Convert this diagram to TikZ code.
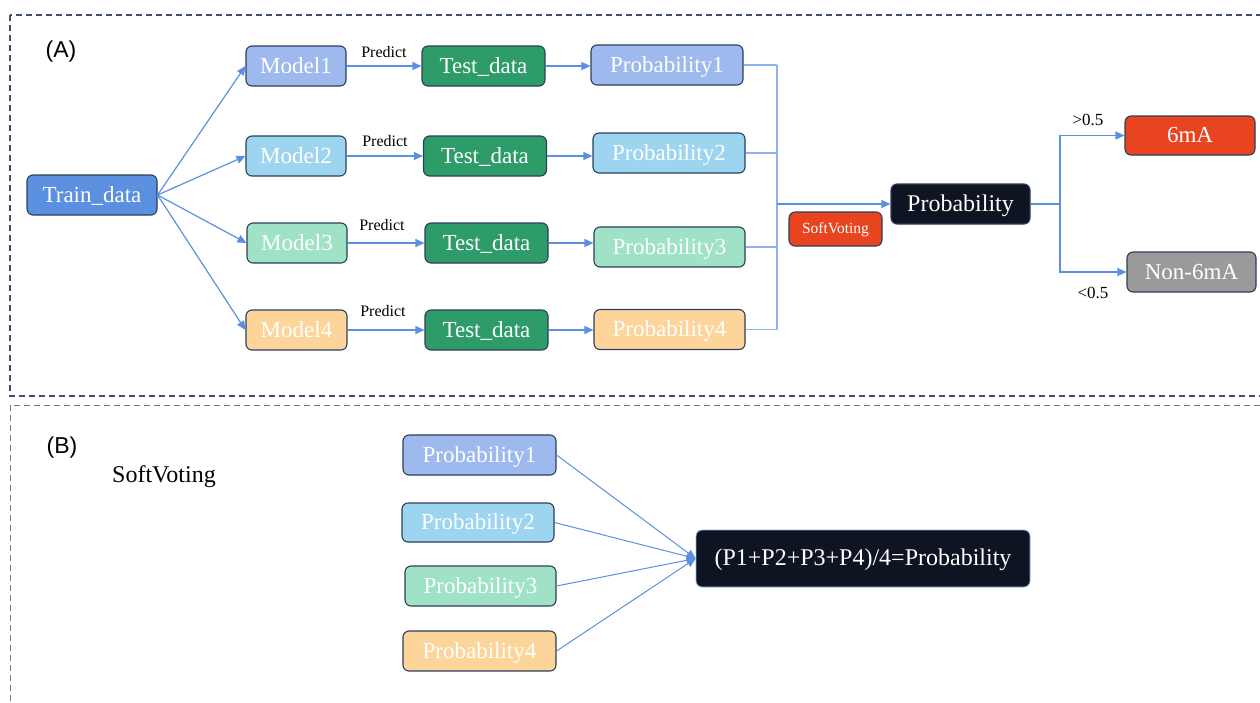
\documentclass[tikz,border=0pt]{standalone}
\usepackage{fontspec}
\setmainfont{Liberation Serif}
\newfontfamily\panelfont{Liberation Sans}
\usetikzlibrary{arrows.meta}

\definecolor{trainblue}{HTML}{5B8FE0}
\definecolor{mblue}{HTML}{9DB9EE}
\definecolor{msky}{HTML}{9DD4F0}
\definecolor{mmint}{HTML}{A0E2C6}
\definecolor{mpeach}{HTML}{FDD59B}
\definecolor{testgreen}{HTML}{2E9C69}
\definecolor{hotred}{HTML}{E94420}
\definecolor{inkdark}{HTML}{0F1422}
\definecolor{midgrey}{HTML}{9A9A9A}
\definecolor{edgenavy}{HTML}{2C3E5A}
\definecolor{flowblue}{HTML}{5B8FE3}
\definecolor{joinblue}{HTML}{8DB2EE}
\definecolor{frameA}{HTML}{3F4E6E}
\definecolor{frameB}{HTML}{6A7894}

\tikzset{
  box/.style={draw=edgenavy, line width=1.1pt, rounded corners=6pt,
    inner sep=0pt, text=white, align=center,
    text height=14pt, text depth=0pt,
    font=\fontsize{23}{26}\selectfont},
  wide/.style={minimum width=#1, minimum height=40pt},
  flow/.style={draw=flowblue, line width=1.2pt,
    -{Triangle[length=9pt,width=8pt]}},
  busline/.style={draw=joinblue, line width=1.1pt},
  lbl/.style={inner sep=0pt, font=\fontsize{16}{18}\selectfont},
  panel/.style={inner sep=0pt, font=\panelfont\fontsize{23}{26}\selectfont},
}

\begin{document}
\begin{tikzpicture}[x=1pt, y=-1pt]
\useasboundingbox (0,0) rectangle (1260,702);
\clip (0,0) rectangle (1260,702);

% panel frames
\draw[frameB, line width=1pt, dash pattern=on 6pt off 4pt] (10,405) rectangle (1275,720);
\draw[frameA, line width=1.3pt, dash pattern=on 6pt off 4pt] (10,15) rectangle (1275,396);

\node[panel] (labA) at (61,52) {(A)};
\node[panel] (labB) at (62,448) {(B)};

% ---------- panel A ----------
\node[box, fill=trainblue, wide=130pt] (train) at (92,195) {Train\_data};

\node[box, fill=mblue,  wide=100pt] (m1) at (296,66)  {Model1};
\node[box, fill=msky,   wide=100pt] (m2) at (296,156) {Model2};
\node[box, fill=mmint,  wide=100pt] (m3) at (297,243) {Model3};
\node[box, fill=mpeach, wide=101pt] (m4) at (296.5,330) {Model4};

\node[box, fill=testgreen, wide=123pt] (t1) at (483.5,66)  {Test\_data};
\node[box, fill=testgreen, wide=123pt] (t2) at (485,156)   {Test\_data};
\node[box, fill=testgreen, wide=123pt] (t3) at (486.5,243) {Test\_data};
\node[box, fill=testgreen, wide=123pt] (t4) at (486.5,330) {Test\_data};

\node[box, fill=mblue,  wide=152pt] (p1) at (667,65)      {Probability1};
\node[box, fill=msky,   wide=152pt] (p2) at (669,153)     {Probability2};
\node[box, fill=mmint,  wide=151pt] (p3) at (669.5,247)   {Probability3};
\node[box, fill=mpeach, wide=151pt] (p4) at (669.5,329.5) {Probability4};

\node[box, fill=hotred, minimum width=93pt, minimum height=34pt, text height=9.5pt,
      font=\fontsize{15.5}{17}\selectfont] (sv) at (835.5,229) {SoftVoting};
\node[box, fill=inkdark, wide=139pt, font=\fontsize{24}{27}\selectfont] (prob) at (960.5,204) {Probability};

\node[box, fill=hotred,  minimum width=130pt, minimum height=39pt] (pos) at (1190,135.5) {6mA};
\node[box, fill=midgrey, wide=129pt] (neg) at (1191.5,272) {Non-6mA};

% training fan-out
\foreach \m in {m1,m2,m3,m4}
  \draw[flow] (train.east) -- (\m.west);

% prediction and probability steps
\foreach \i in {1,2,3,4} {
  \draw[flow] (m\i.east) -- (m\i.east -| t\i.west);
  \draw[flow] (t\i.east) -- (t\i.east -| p\i.west);
}
\node[lbl] (pr1) at (384,52)  {Predict};
\node[lbl] (pr2) at (385,141) {Predict};
\node[lbl] (pr3) at (382,225) {Predict};
\node[lbl] (pr4) at (383,311) {Predict};

% collecting bus into the soft vote
\coordinate (bus) at (777,204);
\foreach \i in {1,2,3,4}
  \draw[busline] (p\i.east) -- (p\i.east -| bus);
\draw[busline] (p1.east -| bus) -- (p4.east -| bus);
\draw[flow] (bus) -- (prob.west);

% threshold split
\coordinate (fork) at (1060,204);
\draw[flow] (prob.east) -- (fork) |- (pos.west);
\draw[flow] (fork) |- (neg.west);
\node[lbl, font=\fontsize{17}{19}\selectfont] (gt) at (1088,120) {>0.5};
\node[lbl, font=\fontsize{17}{19}\selectfont] (lt) at (1093,293) {<0.5};

% ---------- panel B ----------
\node[inner sep=0pt, font=\fontsize{24}{27}\selectfont] (svtitle) at (164,477) {SoftVoting};

\node[box, fill=mblue,  wide=153pt] (q1) at (479.5,455) {Probability1};
\node[box, fill=msky,   minimum width=152pt, minimum height=39pt] (q2) at (478,522.5) {Probability2};
\node[box, fill=mmint,  wide=151pt] (q3) at (480.5,586) {Probability3};
\node[box, fill=mpeach, wide=153pt] (q4) at (479.5,651) {Probability4};

\node[box, fill=inkdark, draw=joinblue, line width=0.8pt, minimum width=334pt,
      minimum height=57pt, font=\fontsize{24}{27}\selectfont] (avg) at (863,558.5)
      {(P1+P2+P3+P4)/4=Probability};

\foreach \q in {q1,q2,q3,q4}
  \draw[flow, line width=1pt] (\q.east) -- (avg.west);
\end{tikzpicture}
\end{document}
